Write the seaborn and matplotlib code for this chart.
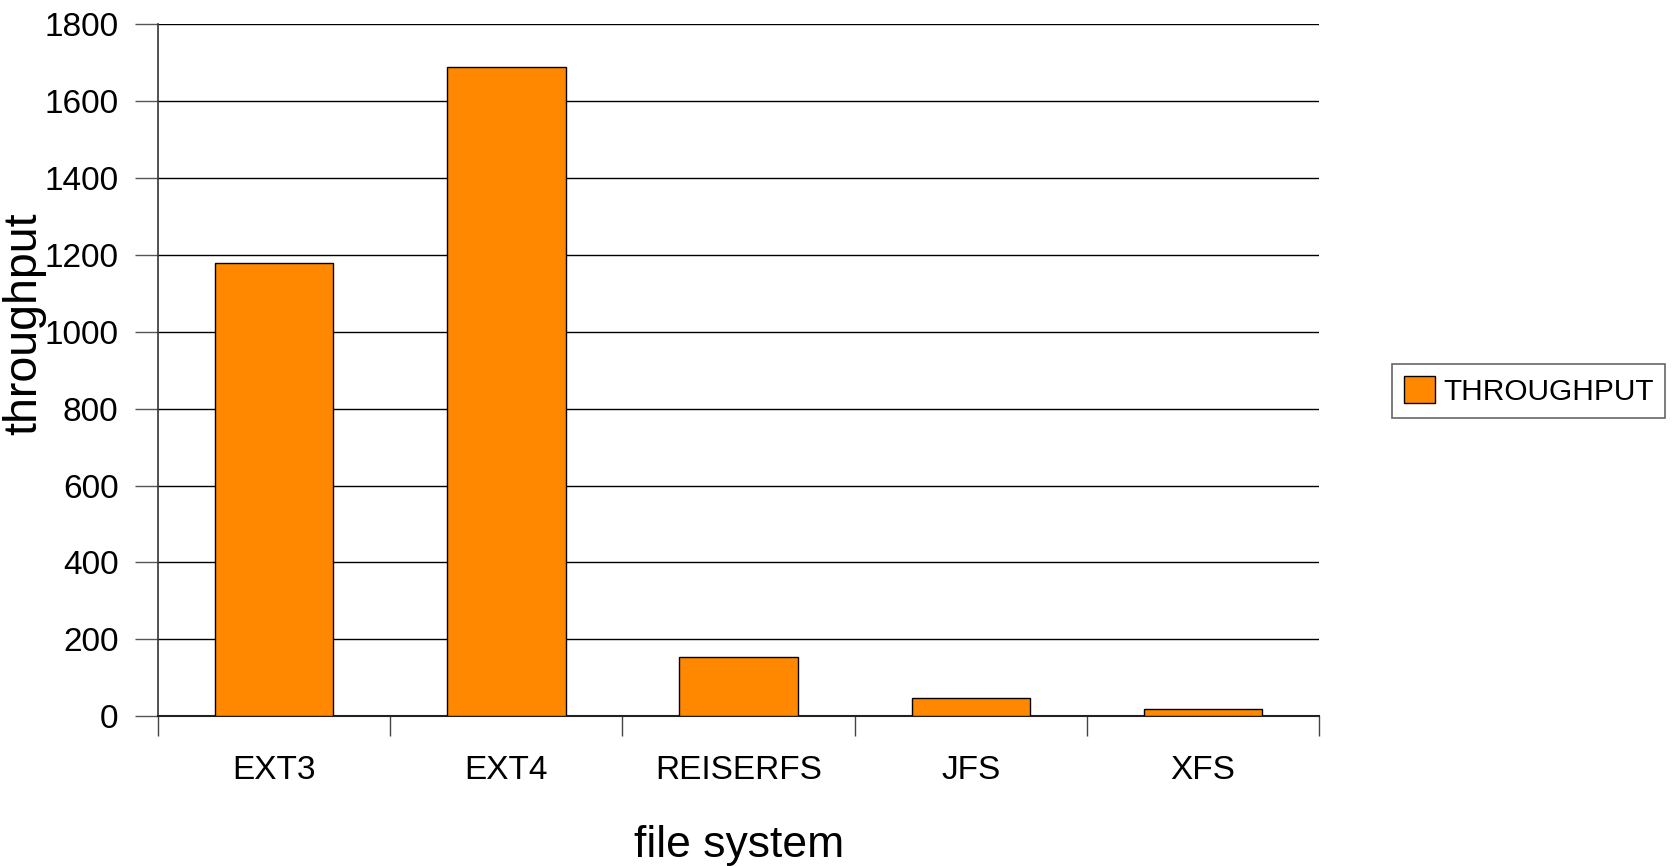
import matplotlib
matplotlib.use("Agg")
import matplotlib.pyplot as plt
import seaborn as sns
import pandas as pd
import numpy as np

# Throughput per file system
systems = ["EXT3", "EXT4", "REISERFS", "JFS", "XFS"]
throughput = [1180, 1690, 155, 48, 18]
series_name = "THROUGHPUT"
y_ticks = [0, 200, 400, 600, 800, 1000, 1200, 1400, 1600, 1800]

sns.set_theme(style="white")
plt.rcParams["font.family"] = ["Liberation Sans", "DejaVu Sans"]
plt.rcParams["text.color"] = "black"
plt.rcParams["axes.labelcolor"] = "black"

df = pd.DataFrame({"file system": systems, "throughput": throughput})

fig = plt.figure(figsize=(16.72, 8.66), dpi=100)
ax = fig.add_axes([0.0945, 0.173, 0.6945, 0.799])

sns.barplot(data=df, x="file system", y="throughput", color="#FF8800",
            saturation=1, edgecolor="black", linewidth=1, width=0.51,
            label=series_name, ax=ax, zorder=3)

ax.set_xlim(-0.5, len(systems) - 0.5)
ax.set_ylim(0, 1800)
ax.set_yticks(y_ticks)
ax.set_yticklabels([str(t) for t in y_ticks])

# Horizontal grid in black
ax.yaxis.grid(True, color="black", linewidth=1)
ax.xaxis.grid(False)
ax.set_axisbelow(True)

for side in ["top", "right"]:
    ax.spines[side].set_visible(False)
ax.spines["left"].set_color("#333333")
ax.spines["left"].set_linewidth(1.2)
ax.spines["bottom"].set_color("#222222")
ax.spines["bottom"].set_linewidth(1.5)

ax.tick_params(axis="y", which="major", direction="out", length=16.5,
               width=1, color="#555555", pad=12, labelsize=24, labelcolor="black", left=True)
ax.tick_params(axis="x", which="major", length=0, pad=28, labelsize=24, labelcolor="black")
ax.set_xticks(np.arange(-0.5, len(systems), 1.0), minor=True)
ax.tick_params(axis="x", which="minor", direction="out", length=14.5,
               width=1, color="#444444", bottom=True)

ax.set_xlabel("file system", fontsize=32, labelpad=28)
ax.set_ylabel("throughput", fontsize=33.5)
ax.yaxis.set_label_coords(-0.0965, 0.567)

leg = ax.legend(loc="upper left", bbox_to_anchor=(0.8325, 0.5797),
                bbox_transform=fig.transFigure, borderaxespad=0,
                fontsize=21.5, frameon=True, fancybox=False, framealpha=1,
                edgecolor="#666666", handlelength=1.04, handleheight=1.04,
                handletextpad=0.27, borderpad=0.4)
leg.get_frame().set_linewidth(1.2)

fig.savefig("out.png", dpi=100, facecolor="white")
